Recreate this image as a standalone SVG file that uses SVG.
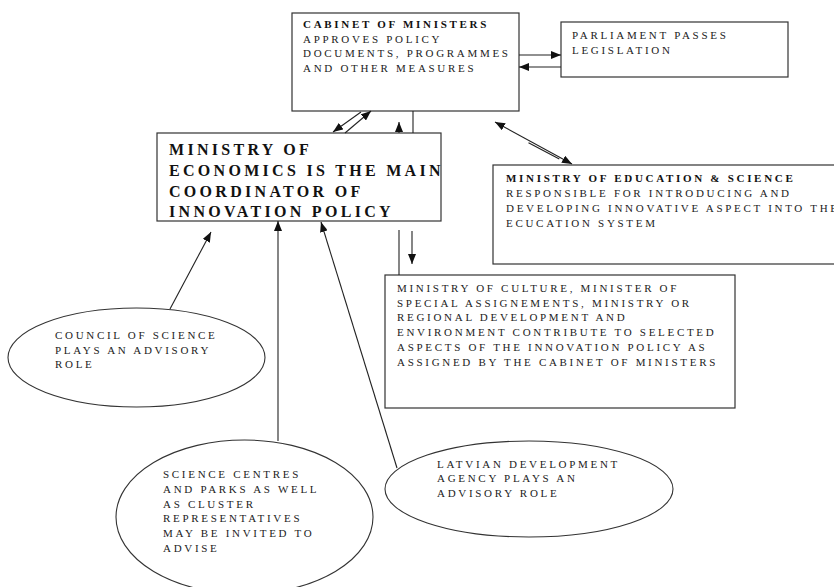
<svg xmlns="http://www.w3.org/2000/svg" width="834" height="587" viewBox="0 0 834 587">
<style>
  .box { fill: #fff; stroke: #333; stroke-width: 1.2; }
  .ell { fill: #fff; stroke: #333; stroke-width: 1.1; }
  .t { font-family: "Liberation Serif", "Times New Roman", serif; font-size: 11px; letter-spacing: 2.7px; fill: #222; }
  .b { font-weight: bold; fill: #111; }
  .big { font-family: "Liberation Serif", "Times New Roman", serif; font-size: 16px; font-weight: bold; letter-spacing: 3.3px; fill: #111; }
  .c { stroke: #222; stroke-width: 1.1; fill: none; }
  .a { marker-end: url(#ah); }
</style>
<defs>
  <marker id="ah" viewBox="0 0 10 8" refX="10" refY="4" markerWidth="10" markerHeight="8" markerUnits="userSpaceOnUse" orient="auto">
    <path d="M0,0 L10,4 L0,8 Z" fill="#111"/>
  </marker>
  <marker id="ahs" viewBox="0 0 10 8" refX="0" refY="4" markerWidth="10" markerHeight="8" markerUnits="userSpaceOnUse" orient="auto">
    <path d="M10,0 L0,4 L10,8 Z" fill="#111"/>
  </marker>
</defs>
<rect width="834" height="587" fill="#fff"/>

<g id="cabinet">
  <rect class="box" x="292" y="13" width="227" height="98"/>
  <text class="t b" x="303" y="28" letter-spacing="2.5">CABINET OF MINISTERS</text>
  <text class="t" x="303" y="42.5" letter-spacing="2.95">APPROVES POLICY</text>
  <text class="t" x="303" y="57" letter-spacing="2.95">DOCUMENTS, PROGRAMMES</text>
  <text class="t" x="303" y="71.5" letter-spacing="2.95">AND OTHER MEASURES</text>
</g>

<g id="parliament">
  <rect class="box" x="561" y="22" width="227" height="55"/>
  <text class="t" x="572" y="39" letter-spacing="2.4">PARLIAMENT PASSES</text>
  <text class="t" x="572" y="54" letter-spacing="2.4">LEGISLATION</text>
</g>

<g id="economics">
  <rect class="box" x="157" y="133" width="284" height="88"/>
  <text class="big" x="169" y="155">MINISTRY OF</text>
  <text class="big" x="169" y="175.7">ECONOMICS IS THE MAIN</text>
  <text class="big" x="169" y="196.5">COORDINATOR OF</text>
  <text class="big" x="169" y="217.3">INNOVATION POLICY</text>
</g>

<g id="education">
  <rect class="box" x="493" y="165" width="360" height="99"/>
  <text class="t b" x="506" y="182" letter-spacing="2.3">MINISTRY OF EDUCATION &amp; SCIENCE</text>
  <text class="t" x="506" y="197" letter-spacing="2.5">RESPONSIBLE FOR INTRODUCING AND</text>
  <text class="t" x="506" y="212" letter-spacing="2.5">DEVELOPING INNOVATIVE ASPECT INTO THE</text>
  <text class="t" x="506" y="227" letter-spacing="2.5">ECUCATION SYSTEM</text>
</g>

<g id="culture">
  <rect class="box" x="385" y="275" width="350" height="133"/>
  <text class="t" x="397" y="292" letter-spacing="2.75">MINISTRY OF CULTURE, MINISTER OF</text>
  <text class="t" x="397" y="306.5" letter-spacing="2.75">SPECIAL ASSIGNEMENTS, MINISTRY OR</text>
  <text class="t" x="397" y="321" letter-spacing="2.75">REGIONAL DEVELOPMENT AND</text>
  <text class="t" x="397" y="336" letter-spacing="2.75">ENVIRONMENT CONTRIBUTE TO SELECTED</text>
  <text class="t" x="397" y="351" letter-spacing="2.75">ASPECTS OF THE INNOVATION POLICY AS</text>
  <text class="t" x="397" y="366" letter-spacing="2.75">ASSIGNED BY THE CABINET OF MINISTERS</text>
</g>

<g id="council">
  <ellipse class="ell" cx="136.5" cy="357.5" rx="128.5" ry="49.5"/>
  <text class="t" x="55" y="339" letter-spacing="2.5">COUNCIL OF SCIENCE</text>
  <text class="t" x="55" y="353.5" letter-spacing="2.5">PLAYS AN ADVISORY</text>
  <text class="t" x="55" y="368" letter-spacing="2.5">ROLE</text>
</g>

<g id="science">
  <ellipse class="ell" cx="244.5" cy="517" rx="128.5" ry="77"/>
  <text class="t" x="163" y="478" letter-spacing="2.6">SCIENCE CENTRES</text>
  <text class="t" x="163" y="493" letter-spacing="2.6">AND PARKS AS WELL</text>
  <text class="t" x="163" y="507.5" letter-spacing="2.6">AS CLUSTER</text>
  <text class="t" x="163" y="522" letter-spacing="2.6">REPRESENTATIVES</text>
  <text class="t" x="163" y="537" letter-spacing="2.6">MAY BE INVITED TO</text>
  <text class="t" x="163" y="552" letter-spacing="2.6">ADVISE</text>
</g>

<g id="latvian">
  <ellipse class="ell" cx="529" cy="489" rx="144" ry="48"/>
  <text class="t" x="437" y="467.5" letter-spacing="2.8">LATVIAN DEVELOPMENT</text>
  <text class="t" x="437" y="482" letter-spacing="2.8">AGENCY PLAYS AN</text>
  <text class="t" x="437" y="496.5" letter-spacing="2.8">ADVISORY ROLE</text>
</g>

<g id="connectors">
  <line class="c a" x1="519" y1="55" x2="561" y2="55"/>
  <line class="c a" x1="561" y1="67" x2="519" y2="67"/>
  <line class="c a" x1="361" y1="112" x2="333" y2="132"/>
  <line class="c a" x1="345" y1="133" x2="371" y2="111"/>
  <line class="c a" x1="399" y1="133" x2="399" y2="122"/>
  <line class="c" x1="413" y1="111" x2="413" y2="133"/>
  <line class="c" x1="399" y1="230" x2="399" y2="275"/>
  <line class="c a" x1="412" y1="231" x2="412" y2="264"/>
  <line class="c a" x1="495" y1="122" x2="572" y2="164" marker-start="url(#ahs)"/>
  <line class="c" x1="528.5" y1="142.7" x2="559.3" y2="159.1"/>
  <line class="c a" x1="170" y1="309" x2="211" y2="232"/>
  <line class="c a" x1="278" y1="441" x2="278" y2="221"/>
  <line class="c a" x1="397" y1="468" x2="321" y2="222"/>
</g>
</svg>
